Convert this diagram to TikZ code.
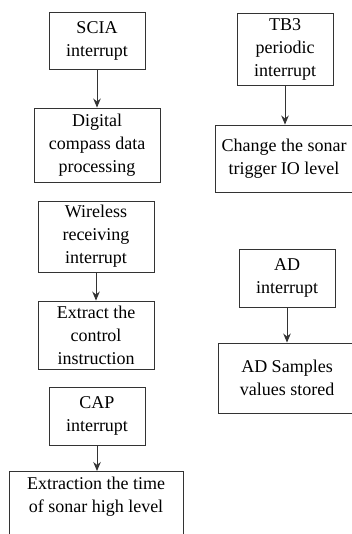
\documentclass[tikz,border=0pt]{standalone}
\usepackage{fontspec}
\setmainfont{Liberation Serif}
\usetikzlibrary{arrows.meta}
\definecolor{linec}{gray}{0.2}
\tikzset{
  box/.style={draw=linec, line width=0.9pt, align=center, inner sep=0pt,
    font=\fontsize{18}{23}\selectfont, text=black},
  txt/.style={align=center, inner sep=0pt, font=\fontsize{18}{23}\selectfont, text=black},
  arr/.style={draw=linec, line width=0.9pt, -{Stealth[length=9pt,width=7.5pt]}}
}
\begin{document}
\begin{tikzpicture}[x=1pt,y=-1pt]
\useasboundingbox (0,0) rectangle (352,534);
\clip (0,0) rectangle (352,534);
% left column
\node[box, minimum width=96pt, minimum height=57pt] (scia) at (97,40.5) {SCIA\\interrupt};
\node[box, minimum width=126pt, minimum height=74pt] (dig) at (97,145) {Digital\\compass data\\processing};
\node[box, minimum width=116pt, minimum height=71pt] (wir) at (96,236.5) {Wireless\\receiving\\interrupt};
\node[box, minimum width=116pt, minimum height=68pt] (ext) at (96,335) {Extract the\\control\\instruction};
\node[box, minimum width=96pt, minimum height=58pt] (cap) at (97,416) {CAP\\interrupt};
\node[box, minimum width=174pt, minimum height=90pt, anchor=north] (son) at (96,471) {};
\node[txt] (sont) at (96,497) {Extraction the time\\of sonar high level};
% right column
\node[box, minimum width=96pt, minimum height=72pt] (tb3) at (285,49) {TB3\\periodic\\interrupt};
\node[box, minimum width=138pt, minimum height=67pt] (chg) at (284,158.5) {Change the sonar\\trigger IO level};
\node[box, minimum width=96pt, minimum height=58pt] (ad) at (287,278) {AD\\interrupt};
\node[box, minimum width=138pt, minimum height=70pt] (ads) at (287,378) {AD Samples\\values stored};
% arrows
\draw[arr] (scia.south) -- (scia.south |- dig.north);
\draw[arr] (wir.south) -- (wir.south |- ext.north);
\draw[arr] (cap.south) -- (cap.south |- son.north);
\draw[arr] (tb3.south) -- (tb3.south |- chg.north);
\draw[arr] (ad.south) -- (ad.south |- ads.north);
\end{tikzpicture}
\end{document}
